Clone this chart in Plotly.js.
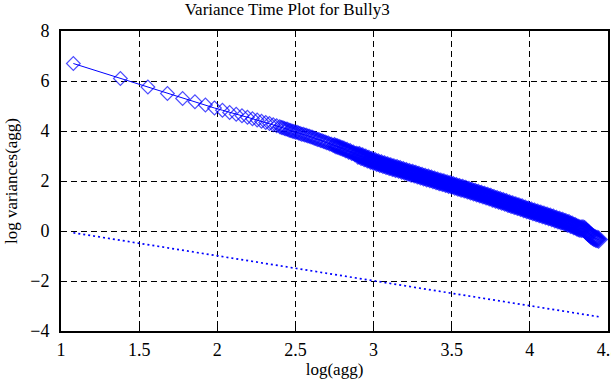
<!DOCTYPE html>
<html>
<head>
<meta charset="utf-8">
<script src="https://cdn.plot.ly/plotly-3.0.1.min.js"></script>
<style>html,body{margin:0;padding:0;background:#fff;}</style>
</head>
<body>
<div id="chart" style="width:611px;height:385px;"></div>
<script>
// log10 of aggregation level
const logAgg = [
  1.079, 1.380, 1.556, 1.681, 1.778, 1.857, 1.924, 1.982, 2.033, 2.079,
  2.121, 2.158, 2.193, 2.225, 2.255, 2.283, 2.310, 2.334, 2.358, 2.380,
  2.40, 2.41, 2.42, 2.43, 2.44, 2.45, 2.46, 2.47, 2.48, 2.49,
  2.50, 2.51, 2.52, 2.53, 2.54, 2.55, 2.56, 2.57, 2.58, 2.59,
  2.60, 2.61, 2.62, 2.63, 2.64, 2.65, 2.66, 2.67, 2.68, 2.69,
  2.70, 2.71, 2.72, 2.73, 2.74, 2.75, 2.76, 2.77, 2.78, 2.79,
  2.80, 2.81, 2.82, 2.83, 2.84, 2.85, 2.86, 2.87, 2.88, 2.89,
  2.90, 2.91, 2.92, 2.93, 2.94, 2.95, 2.96, 2.97, 2.98, 2.99,
  3.00, 3.01, 3.02, 3.03, 3.04, 3.05, 3.06, 3.07, 3.08, 3.09,
  3.10, 3.11, 3.12, 3.13, 3.14, 3.15, 3.16, 3.17, 3.18, 3.19,
  3.20, 3.21, 3.22, 3.23, 3.24, 3.25, 3.26, 3.27, 3.28, 3.29,
  3.30, 3.31, 3.32, 3.33, 3.34, 3.35, 3.36, 3.37, 3.38, 3.39,
  3.40, 3.41, 3.42, 3.43, 3.44, 3.45, 3.46, 3.47, 3.48, 3.49,
  3.50, 3.51, 3.52, 3.53, 3.54, 3.55, 3.56, 3.57, 3.58, 3.59,
  3.60, 3.61, 3.62, 3.63, 3.64, 3.65, 3.66, 3.67, 3.68, 3.69,
  3.70, 3.71, 3.72, 3.73, 3.74, 3.75, 3.76, 3.77, 3.78, 3.79,
  3.80, 3.81, 3.82, 3.83, 3.84, 3.85, 3.86, 3.87, 3.88, 3.89,
  3.90, 3.91, 3.92, 3.93, 3.94, 3.95, 3.96, 3.97, 3.98, 3.99,
  4.00, 4.01, 4.02, 4.03, 4.04, 4.05, 4.06, 4.07, 4.08, 4.09,
  4.10, 4.11, 4.12, 4.13, 4.14, 4.15, 4.16, 4.17, 4.18, 4.19,
  4.20, 4.21, 4.22, 4.23, 4.24, 4.25, 4.26, 4.27, 4.28, 4.29,
  4.30, 4.31, 4.32, 4.33, 4.34, 4.35, 4.36, 4.37, 4.38, 4.39,
  4.40, 4.41, 4.42, 4.43, 4.44
];
// log10 of variance of aggregated series
const logVar = [
  6.70, 6.10, 5.76, 5.50, 5.30, 5.17, 5.04, 4.92, 4.83, 4.74,
  4.67, 4.61, 4.55, 4.49, 4.44, 4.39, 4.34, 4.30, 4.25, 4.21,
  4.17, 4.14, 4.13, 4.10, 4.08, 4.07, 4.03, 4.02, 3.99, 3.98,
  3.95, 3.95, 3.92, 3.90, 3.87, 3.87, 3.84, 3.83, 3.80, 3.79,
  3.76, 3.75, 3.71, 3.70, 3.66, 3.66, 3.62, 3.61, 3.58, 3.56,
  3.53, 3.52, 3.48, 3.47, 3.43, 3.43, 3.39, 3.38, 3.35, 3.33,
  3.30, 3.29, 3.24, 3.24, 3.18, 3.19, 3.13, 3.13, 3.08, 3.08,
  3.02, 3.03, 2.97, 2.98, 2.92, 2.93, 2.87, 2.88, 2.82, 2.83,
  2.77, 2.79, 2.73, 2.74, 2.69, 2.70, 2.65, 2.66, 2.61, 2.62,
  2.57, 2.58, 2.53, 2.54, 2.49, 2.51, 2.46, 2.47, 2.42, 2.43,
  2.38, 2.39, 2.34, 2.35, 2.30, 2.32, 2.27, 2.28, 2.23, 2.24,
  2.19, 2.20, 2.15, 2.16, 2.11, 2.13, 2.08, 2.09, 2.04, 2.05,
  2.00, 2.01, 1.96, 1.97, 1.93, 1.94, 1.89, 1.90, 1.85, 1.87,
  1.82, 1.83, 1.78, 1.79, 1.74, 1.75, 1.70, 1.72, 1.67, 1.68,
  1.63, 1.64, 1.59, 1.60, 1.55, 1.56, 1.51, 1.52, 1.47, 1.48,
  1.43, 1.44, 1.39, 1.40, 1.35, 1.36, 1.30, 1.31, 1.26, 1.27,
  1.22, 1.23, 1.18, 1.19, 1.14, 1.15, 1.09, 1.10, 1.05, 1.06,
  1.01, 1.02, 0.97, 0.98, 0.93, 0.94, 0.88, 0.89, 0.84, 0.85,
  0.80, 0.81, 0.76, 0.77, 0.72, 0.73, 0.68, 0.69, 0.64, 0.65,
  0.60, 0.61, 0.56, 0.57, 0.52, 0.53, 0.47, 0.48, 0.43, 0.44,
  0.39, 0.40, 0.35, 0.35, 0.30, 0.31, 0.25, 0.25, 0.20, 0.19,
  0.15, 0.12, 0.10, 0.09, 0.10, 0.07, 0.00, -0.06, -0.12, -0.18,
  -0.23, -0.27, -0.30, -0.32, -0.34
];
// reference line (slope -1)
const refX = [1.079, 4.44];
const refY = [-0.07, -3.43];

const xTicks = [1, 1.5, 2, 2.5, 3, 3.5, 4, 4.5];
const xTickText = ["1", "1.5", "2", "2.5", "3", "3.5", "4", "4.5"];
const yTicks = [-4, -2, 0, 2, 4, 6, 8];

const serif = "Liberation Serif, Times New Roman, serif";

// where the real series is dense (thousands of points), the overlapping
// diamonds merge into a solid band: emulate with a heavier outline there
const markerLineW = logAgg.map(v => v >= 2.9 ? 3.4 : (v >= 2.75 ? 2.2 : 1.2));
const markerSize = logAgg.map(v => v >= 2.9 ? 11 : 10.5);

const traces = [
  {
    x: logAgg, y: logVar, type: "scatter", mode: "lines+markers",
    line: {color: "#0000ff", width: 1},
    marker: {symbol: "diamond-open", size: markerSize, color: "#0000ff", line: {color: "#0000ff", width: markerLineW}},
    hoverinfo: "skip"
  },
  {
    x: refX, y: refY, type: "scatter", mode: "lines",
    line: {color: "#0000ff", width: 1.7, dash: "2px,3px"},
    hoverinfo: "skip"
  }
];

const axisCommon = {
  showline: true, linecolor: "#000", linewidth: 2, mirror: "ticks",
  ticks: "inside", ticklen: 6, tickwidth: 1, tickcolor: "#000",
  showgrid: true, gridcolor: "#000", gridwidth: 1, griddash: "6px,4px",
  zeroline: false, ticklabeloverflow: "allow",
  tickfont: {family: serif, size: 18, color: "#000"}
};

const layout = {
  width: 611, height: 385,
  margin: {l: 61, r: 3, t: 31, b: 54},
  paper_bgcolor: "#fff", plot_bgcolor: "#fff",
  showlegend: false,
  title: {
    text: "Variance Time Plot for Bully3",
    font: {family: serif, size: 17, color: "#000"},
    xref: "container", x: 0.47, xanchor: "center",
    yref: "container", y: 0.977, yanchor: "middle"
  },
  xaxis: Object.assign({}, axisCommon, {
    range: [1, 4.5], tickmode: "array", tickvals: xTicks, ticktext: xTickText,
    ticklabelstandoff: 1,
    title: {text: "log(agg)", font: {family: serif, size: 17, color: "#000"}, standoff: 0}
  }),
  yaxis: Object.assign({}, axisCommon, {
    range: [-4, 8], tickmode: "array", tickvals: yTicks,
    ticklabelstandoff: 6,
    title: {text: "log variances(agg)", font: {family: serif, size: 17, color: "#000"}, standoff: 8}
  })
};

Plotly.newPlot("chart", traces, layout, {displayModeBar: false, staticPlot: true});
</script>
</body>
</html>
